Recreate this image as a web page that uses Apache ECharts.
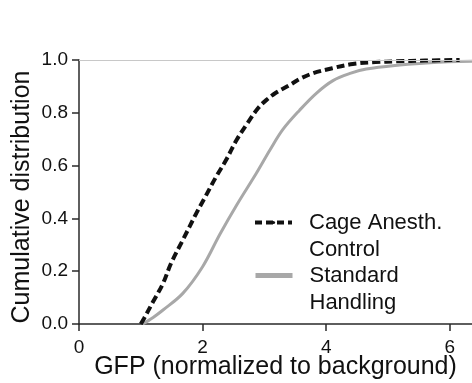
<!DOCTYPE html>
<html>
<head>
<meta charset="utf-8">
<script src="https://cdn.jsdelivr.net/npm/echarts@6/dist/echarts.min.js"></script>
<style>
html,body{margin:0;padding:0;background:#fff;}
#chart{width:472px;height:383px;}
</style>
</head>
<body>
<div id="chart"></div>
<script>
// Cage Anesth. Control (black dashed)
const cageX = [1.0, 1.05, 1.2, 1.36, 1.49, 1.68, 1.9, 2.03, 2.22, 2.38, 2.55, 2.73, 2.9, 3.03, 3.18, 3.41, 3.57, 3.79, 4.1, 4.43, 4.8, 5.14, 5.6, 6.16];
const cageY = [0, 0.02, 0.085, 0.154, 0.23, 0.318, 0.42, 0.476, 0.558, 0.621, 0.697, 0.762, 0.818, 0.848, 0.875, 0.905, 0.928, 0.95, 0.969, 0.985, 0.992, 0.995, 0.998, 1.0];
// Standard Handling (gray solid)
const stdX = [1.03, 1.2, 1.36, 1.68, 2.0, 2.28, 2.55, 2.87, 3.09, 3.30, 3.57, 3.84, 4.11, 4.4, 4.65, 5.19, 5.68, 6.36];
const stdY = [0, 0.025, 0.053, 0.116, 0.217, 0.34, 0.45, 0.571, 0.659, 0.737, 0.81, 0.874, 0.922, 0.95, 0.966, 0.981, 0.99, 0.995];
const seriesNames = ['Cage Anesth. Control', 'Standard Handling'];
const legendLabels = [' \nCage Anesth.\nControl', ' \nStandard\nHandling'];
const yTicks = [0, 0.2, 0.4, 0.6, 0.8, 1.0];
const xTicks = [0, 2, 4, 6];

const pairs = (xs, ys) => xs.map((x, i) => [x, ys[i]]);
const FONT = 'Liberation Sans, Arial, sans-serif';
const AX = '#2a2a2a';

const chart = echarts.init(document.getElementById('chart'), null, {renderer: 'canvas'});

function legendFor(i, top) {
  return {
    data: [seriesNames[i]],
    left: 253,
    top: top,
    padding: 0,
    itemWidth: 37,
    itemHeight: 4,
    formatter: () => legendLabels[i],
    lineStyle: i === 0 ? {width: 4, type: [7, 4], color: '#111'} : {width: 5, type: 'solid', color: '#a8a8a8'},
    textStyle: {fontFamily: FONT, fontSize: 22, lineHeight: 27, color: '#111', padding: [0, 0, 0, 12]},
    selectedMode: false
  };
}

chart.setOption({
  animation: false,
  backgroundColor: '#fff',
  grid: {left: 79, right: 0, top: 60, bottom: 59, outerBoundsMode: 'none', containLabel: false},
  legend: [legendFor(0, 182), legendFor(1, 235)],
  xAxis: {
    type: 'value',
    min: xTicks[0],
    max: 6.36,
    interval: xTicks[1] - xTicks[0],
    name: 'GFP (normalized to background)',
    nameLocation: 'middle',
    nameGap: 31,
    nameMoveOverlap: false,
    nameTextStyle: {fontFamily: FONT, fontSize: 25, color: '#111'},
    axisLine: {lineStyle: {color: AX, width: 1.5}},
    axisTick: {length: 7, lineStyle: {color: AX, width: 1.5}},
    axisLabel: {fontFamily: FONT, fontSize: 19, color: '#111', margin: 14, showMaxLabel: false},
    splitLine: {show: false}
  },
  yAxis: {
    type: 'value',
    min: yTicks[0],
    max: yTicks[yTicks.length - 1],
    interval: 0.2,
    name: 'Cumulative distribution',
    nameLocation: 'middle',
    nameGap: 44,
    nameMoveOverlap: false,
    nameTextStyle: {fontFamily: FONT, fontSize: 25, color: '#111', padding: [0, 10, 0, 0]},
    axisLine: {show: true, lineStyle: {color: AX, width: 1.5}},
    axisTick: {show: true, length: 7, lineStyle: {color: AX, width: 1.5}},
    axisLabel: {fontFamily: FONT, fontSize: 19, color: '#111', margin: 11, formatter: v => v.toFixed(1)},
    splitLine: {show: false}
  },
  series: [
    {
      name: seriesNames[1],
      type: 'line',
      data: pairs(stdX, stdY),
      showSymbol: false,
      symbol: 'none',
      smooth: 0.35,
      lineStyle: {color: '#a8a8a8', width: 3},
      itemStyle: {color: '#a8a8a8'},
      markLine: {
        silent: true,
        symbol: 'none',
        label: {show: false},
        lineStyle: {color: '#c8c8c8', width: 1, type: 'solid'},
        data: [{yAxis: 1}]
      },
      z: 2
    },
    {
      name: seriesNames[0],
      type: 'line',
      data: pairs(cageX, cageY),
      showSymbol: false,
      symbol: 'none',
      smooth: 0.35,
      lineStyle: {color: '#111', width: 4, type: [8, 4]},
      itemStyle: {color: '#111'},
      z: 3
    }
  ]
});
</script>
</body>
</html>
